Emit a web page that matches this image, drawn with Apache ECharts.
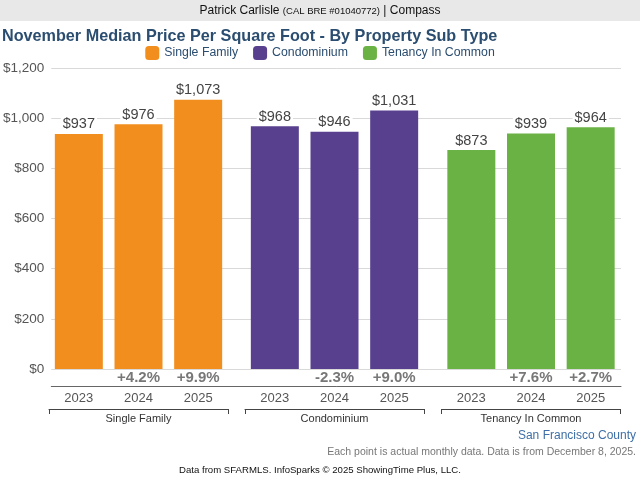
<!DOCTYPE html>
<html>
<head>
<meta charset="utf-8">
<script src="https://cdn.jsdelivr.net/npm/echarts@6/dist/echarts.min.js"></script>
<style>
html,body{margin:0;padding:0;background:#fff;}
#c{width:640px;height:480px;}
</style>
</head>
<body>
<div id="c"></div>
<script>
// ---- data ----
var years = ['2023', '2024', '2025'];
var groups = ['Single Family', 'Condominium', 'Tenancy In Common'];
var singleFamily = [937, 976, 1073];
var condominium = [968, 946, 1031];
var tenancyInCommon = [873, 939, 964];
var singleFamilyChange = [null, 4.2, 9.9];
var condominiumChange = [null, -2.3, 9.0];
var tenancyInCommonChange = [null, 7.6, 2.7];
var yTicks = [0, 200, 400, 600, 800, 1000, 1200];

var groupValues = [singleFamily, condominium, tenancyInCommon];
var groupChanges = [singleFamilyChange, condominiumChange, tenancyInCommonChange];
var colors = ['#F28E1E', '#58408F', '#6BB244'];
var FONT = '"Liberation Sans", Arial, sans-serif';

function money(v) { return '$' + v.toLocaleString('en-US'); }

var chart = echarts.init(document.getElementById('c'), null, {renderer: 'canvas'});

var gridPos = [49, 245, 441.5];
var grids = [{left: 48, right: 19, top: 68, bottom: 111}];
var xAxes = [{
  gridIndex: 0, type: 'category', data: [''], offset: 17,
  axisLine: {show: true, onZero: false, lineStyle: {color: '#666', width: 1}},
  axisTick: {show: false}, axisLabel: {show: false}, splitLine: {show: false}
}];
var yAxes = [{
  gridIndex: 0, type: 'value', min: yTicks[0], max: yTicks[yTicks.length - 1], interval: 200,
  axisLine: {show: false}, axisTick: {show: false},
  axisLabel: {formatter: function (v) { return money(v); }, color: '#555', fontSize: 13.5, fontFamily: FONT, margin: 7},
  splitLine: {lineStyle: {color: '#d9d9d9', width: 1}}
}];
var series = [];

groups.forEach(function (g, i) {
  var gi = i + 1;
  grids.push({left: gridPos[i], width: 179, top: 68, bottom: 111});
  // year axis
  xAxes.push({
    gridIndex: gi, type: 'category', data: years,
    axisLine: {show: false, onZero: false}, axisTick: {show: false},
    axisLabel: {color: '#555', fontSize: 13, fontFamily: FONT, margin: 23},
    splitLine: {show: false}
  });
  // bracket axis
  xAxes.push({
    gridIndex: gi, type: 'category', data: [g], position: 'bottom', offset: 40,
    axisLine: {show: true, onZero: false, lineStyle: {color: '#444', width: 1}},
    axisTick: {show: true, length: 5, lineStyle: {color: '#444'}},
    axisLabel: {color: '#333', fontSize: 11, fontFamily: FONT, margin: 4},
    splitLine: {show: false}
  });
  yAxes.push({
    gridIndex: gi, type: 'value', min: 0, max: 1200, interval: 200, show: false,
    splitLine: {show: false}
  });
  var xIdx = 1 + i * 2;
  series.push({
    type: 'bar', name: g + ' bars', xAxisIndex: xIdx, yAxisIndex: gi,
    data: groupValues[i], barWidth: 48,
    itemStyle: {color: colors[i]},
    label: {
      show: true, position: 'top', distance: 2,
      formatter: function (p) { return money(p.value); },
      color: '#444', fontSize: 14.5, fontFamily: FONT,
      backgroundColor: '#fff', padding: [1, 2, 0, 2]
    },
    silent: true, animation: false
  });
  series.push({
    type: 'scatter', xAxisIndex: xIdx, yAxisIndex: gi,
    data: years.map(function (y) { return [y, 0]; }),
    symbolSize: 0,
    label: {
      show: true, position: 'bottom', distance: 1,
      formatter: function (p) {
        var c = groupChanges[i][p.dataIndex];
        if (c === null) return '';
        return (c > 0 ? '+' : '') + c.toFixed(1) + '%';
      },
      color: '#555', fontSize: 15, fontWeight: 'bold', fontFamily: FONT
    },
    silent: true, animation: false
  });
  // legend proxy series
  series.push({type: 'line', name: g, data: [], xAxisIndex: xIdx, yAxisIndex: gi, itemStyle: {color: colors[i]}, lineStyle: {color: colors[i]}});
});

chart.setOption({
  animation: false,
  backgroundColor: '#fff',
  graphic: [
    {type: 'rect', left: 0, top: 0, shape: {width: 640, height: 21}, style: {fill: '#e8e8e8'}, silent: true},
    {type: 'text', left: 'center', top: 5, silent: true, style: {
      text: '{a|Patrick Carlisle }{b|(CAL BRE #01040772)}{a| | Compass}',
      rich: {
        a: {fontSize: 12, fill: '#111', fontFamily: FONT},
        b: {fontSize: 9.5, fill: '#111', fontFamily: FONT}
      }
    }},
    {type: 'text', right: 4, top: 430, silent: true, style: {text: 'San Francisco County', fontSize: 12, fill: '#3E6FA8', fontFamily: FONT}},
    {type: 'text', right: 4, top: 447, silent: true, style: {text: 'Each point is actual monthly data. Data is from December 8, 2025.', fontSize: 10.5, fill: '#777', fontFamily: FONT}},
    {type: 'text', left: 'center', top: 465, silent: true, style: {text: 'Data from SFARMLS. InfoSparks \u00a9 2025 ShowingTime Plus, LLC.', fontSize: 9.6, fill: '#111', fontFamily: FONT}}
  ],
  title: {
    text: 'November Median Price Per Square Foot - By Property Sub Type',
    left: -3, top: 24,
    textStyle: {color: '#2B4D70', fontSize: 16.2, fontWeight: 'bold', fontFamily: FONT}
  },
  legend: {
    data: groups, top: 46, left: 'center', icon: 'roundRect',
    itemWidth: 14, itemHeight: 14, itemGap: 15, padding: 0,
    textStyle: {color: '#2B4D70', fontSize: 12.3, fontFamily: FONT},
    selectedMode: false
  },
  grid: grids,
  xAxis: xAxes,
  yAxis: yAxes,
  series: series
});
</script>
</body>
</html>
